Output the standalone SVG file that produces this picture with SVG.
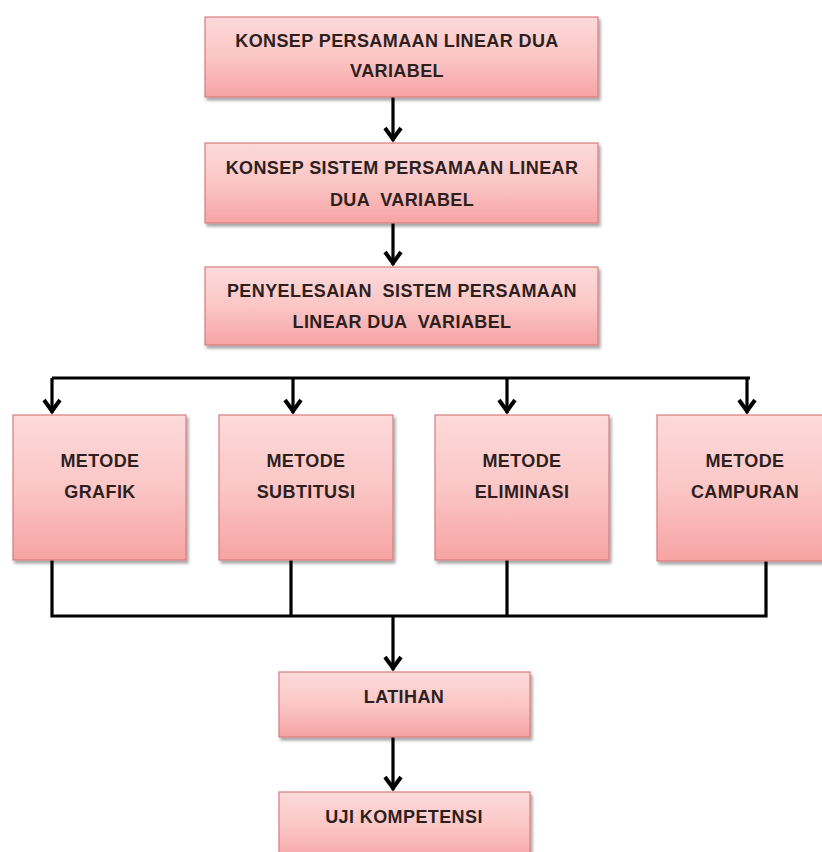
<svg xmlns="http://www.w3.org/2000/svg" width="822" height="852" viewBox="0 0 822 852">
<defs>
<linearGradient id="pink" x1="0" y1="0" x2="0" y2="1">
<stop offset="0" stop-color="#fddada"/>
<stop offset="0.5" stop-color="#fbc6c6"/>
<stop offset="1" stop-color="#f7a3a3"/>
</linearGradient>
<filter id="sh" x="-10%" y="-10%" width="120%" height="130%">
<feDropShadow dx="2" dy="3" stdDeviation="1.5" flood-color="#000" flood-opacity="0.35"/>
</filter>
<marker id="ah" markerUnits="userSpaceOnUse" markerWidth="24" markerHeight="24" viewBox="-18 -12 22 24" refX="0" refY="0" orient="auto">
<path d="M-13,-8 L-2,0 L-13,8" fill="none" stroke="#000" stroke-width="4" stroke-linejoin="miter"/>
</marker>
</defs>
<style>
.box{fill:url(#pink);stroke:#d77d7d;stroke-width:1.2;filter:url(#sh)}
.t{font-family:"Liberation Sans",Arial,sans-serif;font-weight:bold;font-size:18px;letter-spacing:0.4px;fill:#2e1f1f;text-anchor:middle;white-space:pre}
.c{fill:none;stroke:#000;stroke-width:3.2}
</style>
<rect width="822" height="852" fill="#fff"/>
<g id="connectors">
<path class="c" d="M393,97 V141" marker-end="url(#ah)"/>
<path class="c" d="M393,223 V265" marker-end="url(#ah)"/>
<path class="c" d="M52,378 H750"/>
<path class="c" d="M52,378 V413" marker-end="url(#ah)"/>
<path class="c" d="M293,378 V413" marker-end="url(#ah)"/>
<path class="c" d="M507,378 V413" marker-end="url(#ah)"/>
<path class="c" d="M747,378 V413" marker-end="url(#ah)"/>
<path class="c" d="M52,560 V616 H766 V560"/>
<path class="c" d="M291,560 V616"/>
<path class="c" d="M507,560 V616"/>
<path class="c" d="M393,616 V670" marker-end="url(#ah)"/>
<path class="c" d="M393,737 V790" marker-end="url(#ah)"/>
</g>
<g id="n1">
<rect class="box" x="205" y="17" width="393" height="80"/>
<text class="t" x="397" y="47">KONSEP PERSAMAAN LINEAR DUA</text>
<text class="t" x="397" y="77">VARIABEL</text>
</g>
<g id="n2">
<rect class="box" x="205" y="143" width="393" height="80"/>
<text class="t" x="402" y="174">KONSEP SISTEM PERSAMAAN LINEAR</text>
<text class="t" x="402" y="206" xml:space="preserve">DUA  VARIABEL</text>
</g>
<g id="n3">
<rect class="box" x="205" y="267" width="393" height="78"/>
<text class="t" x="402" y="297" xml:space="preserve">PENYELESAIAN  SISTEM PERSAMAAN</text>
<text class="t" x="402" y="328" xml:space="preserve">LINEAR DUA  VARIABEL</text>
</g>
<g id="n4">
<rect class="box" x="13" y="415" width="173" height="145"/>
<text class="t" x="100" y="467">METODE</text>
<text class="t" x="100" y="498">GRAFIK</text>
</g>
<g id="n5">
<rect class="box" x="219" y="415" width="174" height="145"/>
<text class="t" x="306" y="467">METODE</text>
<text class="t" x="306" y="498">SUBTITUSI</text>
</g>
<g id="n6">
<rect class="box" x="435" y="415" width="174" height="145"/>
<text class="t" x="522" y="467">METODE</text>
<text class="t" x="522" y="498">ELIMINASI</text>
</g>
<g id="n7">
<rect class="box" x="657" y="415" width="175" height="146"/>
<text class="t" x="745" y="467">METODE</text>
<text class="t" x="745" y="498">CAMPURAN</text>
</g>
<g id="n8">
<rect class="box" x="279" y="672" width="251" height="65"/>
<text class="t" x="404" y="703">LATIHAN</text>
</g>
<g id="n9">
<rect class="box" x="279" y="792" width="251" height="70"/>
<text class="t" x="404" y="823">UJI KOMPETENSI</text>
</g>
</svg>
